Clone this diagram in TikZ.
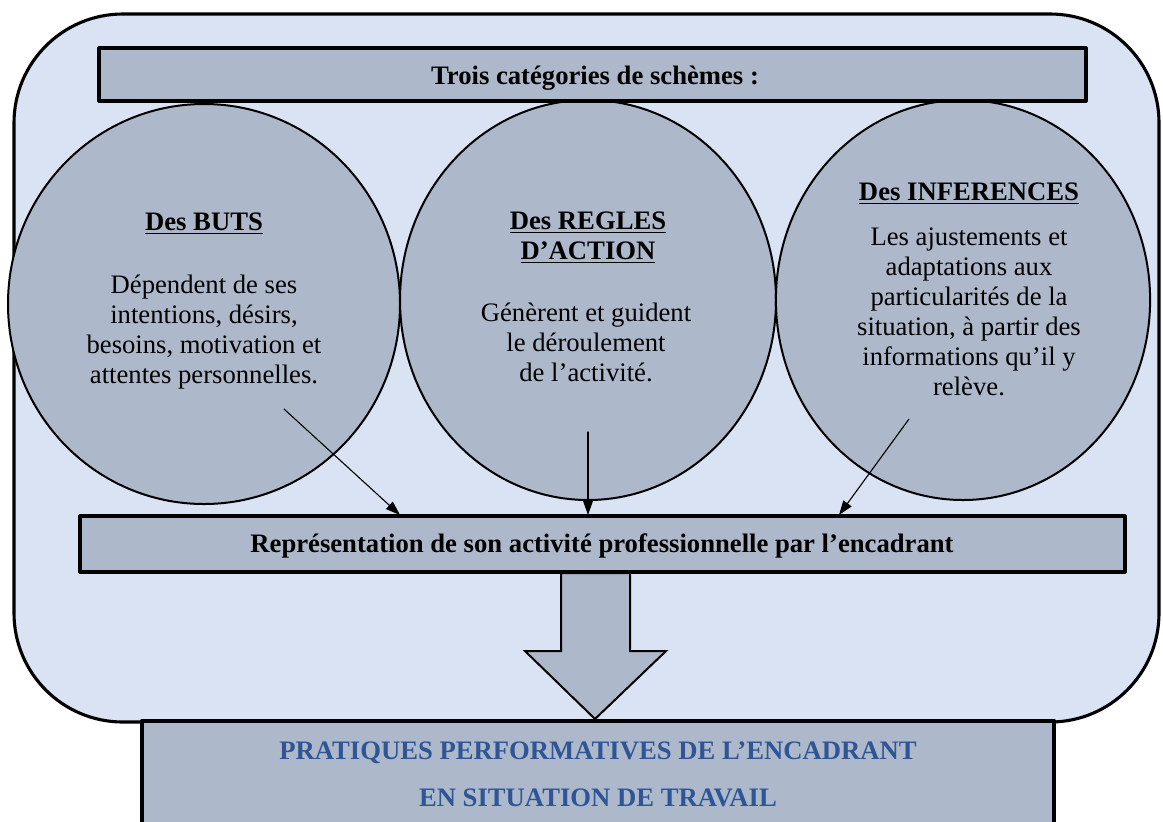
\documentclass[tikz,border=0pt]{standalone}
\usepackage{fontspec}
\setmainfont{Liberation Serif}
\usetikzlibrary{arrows.meta, calc}

\definecolor{fondbleu}{RGB}{218,227,243}
\definecolor{grisbleu}{RGB}{173,185,202}
\definecolor{bleutexte}{RGB}{47,85,151}

\begin{document}
\begin{tikzpicture}[line cap=round,line join=round,>={Triangle[length=6.5pt,width=4.5pt]},x=0.45pt,y=-0.45pt,
  boite/.style={draw,line width=1.4pt,fill=grisbleu},
  cercle/.style={draw,line width=0.9pt,fill=grisbleu},
  corps/.style={align=center,inner sep=0pt,font=\fontsize{12}{13.5}\selectfont},
  titre/.style={align=center,inner sep=0pt,font=\bfseries\fontsize{12}{13.5}\selectfont}]
\clip(0,0) rectangle (1163,821);

% cadre general
\draw[fill=fondbleu,line width=1.4pt,rounded corners=49pt] (14,14) rectangle (1159,722);

% les trois categories
\draw[cercle] (204,304) ellipse [x radius=88.2pt, y radius=90pt];
\draw[cercle] (588,300) ellipse [x radius=84.6pt, y radius=90pt];
\draw[cercle] (963,300) ellipse [x radius=84.2pt, y radius=90pt];

\draw[boite] (99,48) rectangle (1086,101);

% grande fleche vers les pratiques
\draw[fill=grisbleu,line width=0.9pt,line join=miter] (561,573) -- (561,651) -- (525,651) -- (595,719) -- (666,651) -- (630,651) -- (630,573) -- cycle;

\draw[boite] (80,516) rectangle (1125,572);
\draw[boite,line width=2pt] (142,721) rectangle (1054,860);

\coordinate (debutA) at (284,409);
\coordinate (finA) at (400,515);
\coordinate (debutB) at (588,432);
\coordinate (finB) at (588,515);
\coordinate (debutC) at (909,419);
\coordinate (finC) at (839,515);

\draw[->,line width=0.5pt] (debutA) -- (finA);
\draw[->,line width=0.5pt] (debutB) -- (finB);
\draw[->,line width=0.5pt] (debutC) -- (finC);

\node[titre] (schemes) at (595,78) {Trois catégories de schèmes :};

\node[titre] (buts) at (204,224) {\underline{Des BUTS}};
\node[corps] (butsTexte) at (204,332) {Dépendent de ses\\intentions, désirs,\\besoins, motivation et\\attentes personnelles.};

\node[titre] (regles) at (588,238) {\underline{Des REGLES}\\\underline{D’ACTION}};
\node[corps] (reglesTexte) at (586,342) {Génèrent et guident\\le déroulement\\de l’activité.};

\node[titre] (inferences) at (969,194) {\underline{Des INFERENCES}};
\node[corps] (inferencesTexte) at (969,312) {Les ajustements et\\adaptations aux\\particularités de la\\situation, à partir des\\informations qu’il y\\relève.};

\node[titre] (representation) at (602,546) {Représentation de son activité professionnelle par l’encadrant};

\node[titre,text=bleutexte,font=\bfseries\fontsize{12}{21}\selectfont] (pratiques) at (598,774) {PRATIQUES PERFORMATIVES DE L’ENCADRANT\\EN SITUATION DE TRAVAIL};
\end{tikzpicture}
\end{document}
